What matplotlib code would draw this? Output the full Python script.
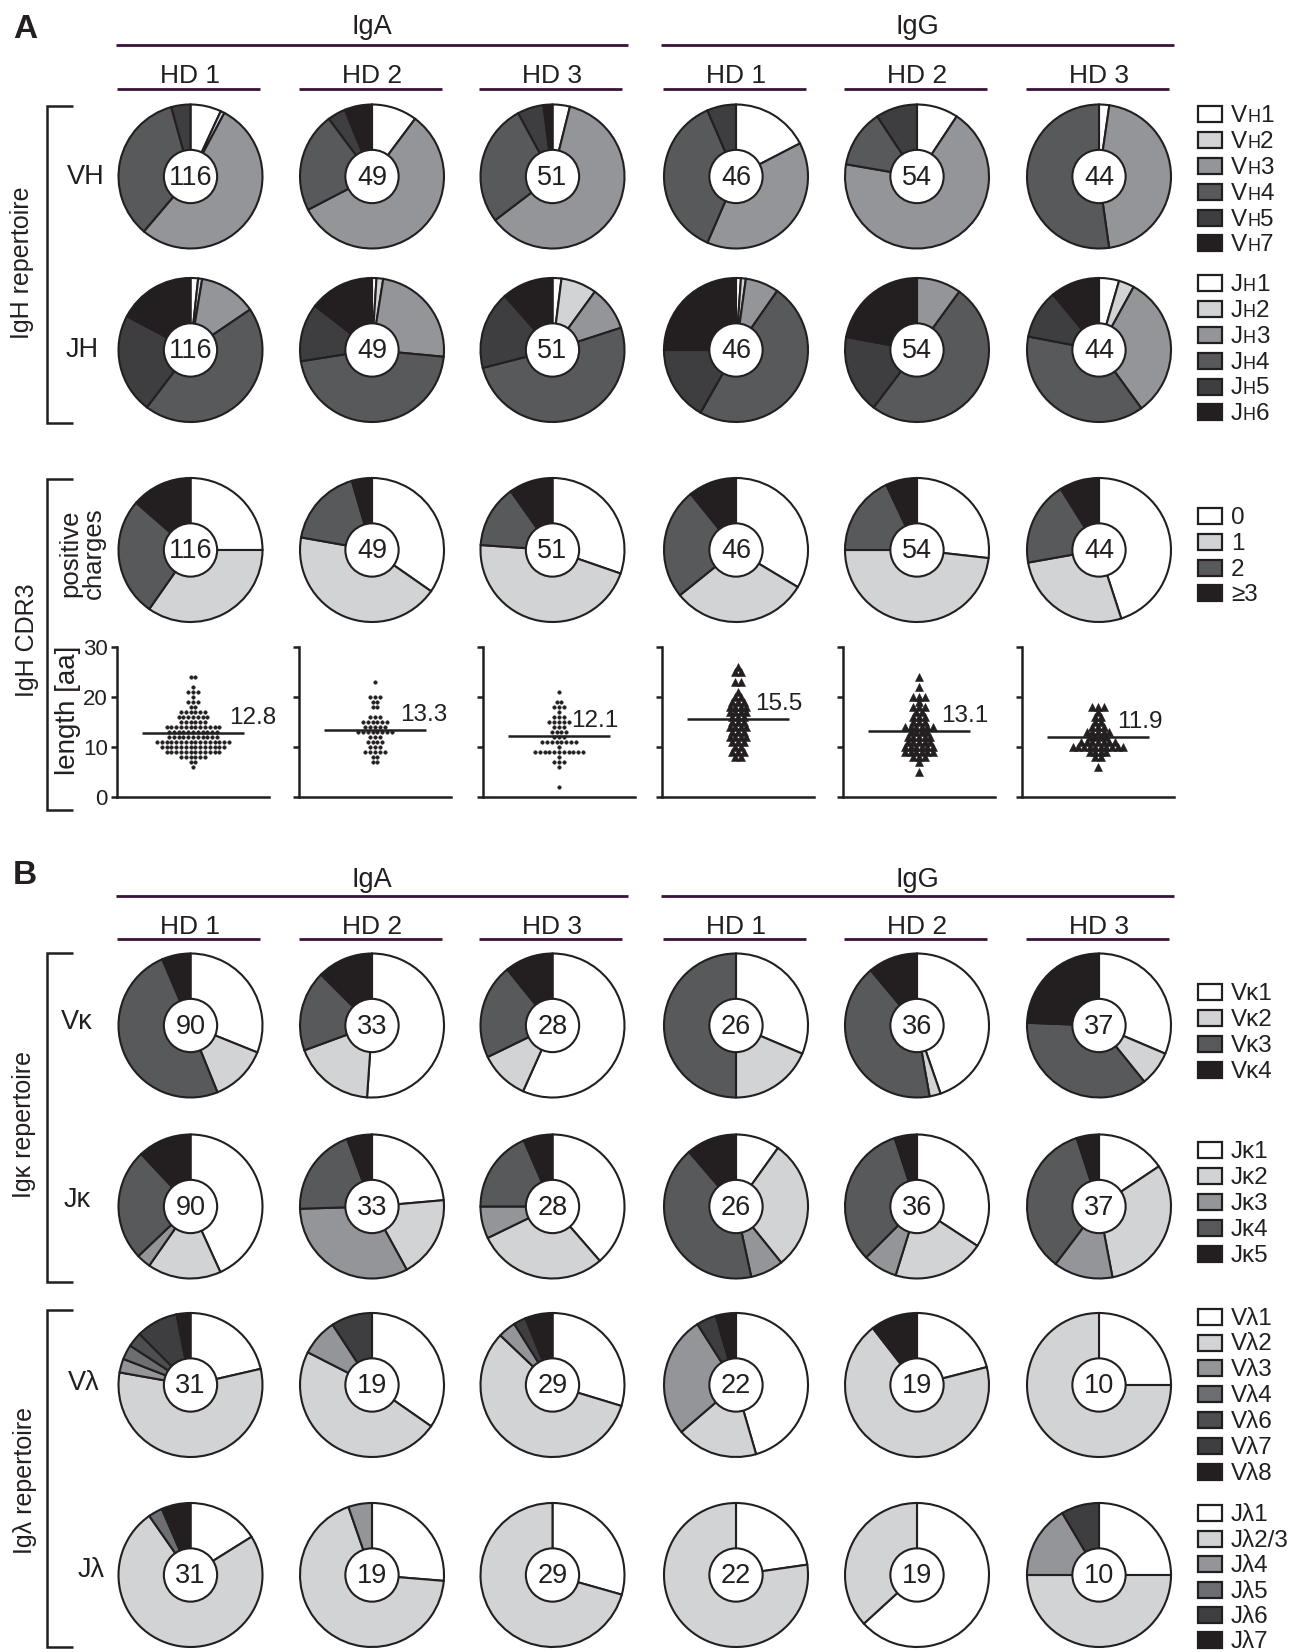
import numpy as np
import matplotlib
matplotlib.use("Agg")
import matplotlib.pyplot as plt
from matplotlib.patches import Circle, Rectangle

plt.rcParams["font.family"] = ["Liberation Sans", "DejaVu Sans"]

# ---------------------------------------------------------------- data
isotypes = ["IgA", "IgG"]
donors = ["HD 1", "HD 2", "HD 3"]

# number of sequences per column (IgA HD1-3, IgG HD1-3)
n_heavy = [116, 49, 51, 46, 54, 44]
n_kappa = [90, 33, 28, 26, 36, 37]
n_lambda = [31, 19, 29, 22, 19, 10]

# gene usage, % of sequences, one row per column
vh_genes = ["VH1", "VH2", "VH3", "VH4", "VH5", "VH7"]
vh_pct = [
    [6.9, 0.9, 53.4, 34.5, 4.3, 0.0],
    [10.2, 0.0, 57.1, 22.4, 4.1, 6.1],
    [3.9, 0.0, 60.8, 27.5, 5.9, 2.0],
    [17.4, 0.0, 39.1, 37.0, 6.5, 0.0],
    [9.3, 0.0, 68.5, 13.0, 9.3, 0.0],
    [2.3, 0.0, 45.5, 52.3, 0.0, 0.0],
]
jh_genes = ["JH1", "JH2", "JH3", "JH4", "JH5", "JH6"]
jh_pct = [
    [1.7, 0.9, 12.9, 44.8, 22.4, 17.2],
    [1.0, 1.5, 24.0, 46.0, 13.0, 14.5],
    [2.0, 8.0, 10.0, 51.0, 17.5, 11.5],
    [1.1, 1.1, 7.5, 48.5, 16.8, 25.0],
    [0.0, 0.0, 10.0, 50.3, 17.6, 22.1],
    [4.5, 3.5, 32.0, 38.0, 11.0, 11.0],
]
charge_classes = ["0", "1", "2", "\u22653"]
charge_pct = [
    [25.0, 34.7, 26.7, 13.6],
    [34.7, 43.1, 17.7, 4.5],
    [30.3, 45.8, 14.1, 9.8],
    [33.6, 30.6, 25.0, 10.8],
    [26.8, 48.2, 18.0, 7.0],
    [45.0, 27.2, 18.9, 8.9],
]
vk_genes = ["V\u03ba1", "V\u03ba2", "V\u03ba3", "V\u03ba4"]
vk_pct = [
    [31.1, 12.8, 49.7, 6.4],
    [51.1, 18.3, 18.1, 12.5],
    [56.7, 11.1, 21.4, 10.8],
    [31.4, 18.6, 50.0, 0.0],
    [44.7, 2.5, 41.7, 11.1],
    [31.4, 7.8, 36.4, 24.4],
]
jk_genes = ["J\u03ba1", "J\u03ba2", "J\u03ba3", "J\u03ba4", "J\u03ba5"]
jk_pct = [
    [43.2, 16.5, 3.2, 25.1, 12.0],
    [23.6, 18.4, 32.5, 19.9, 5.6],
    [38.6, 29.2, 7.2, 18.5, 6.5],
    [9.9, 29.3, 7.4, 42.1, 11.3],
    [34.2, 20.6, 7.7, 32.5, 5.0],
    [15.6, 31.4, 13.3, 34.7, 5.0],
]
vl_genes = ["V\u03bb1", "V\u03bb2", "V\u03bb3", "V\u03bb4", "V\u03bb6", "V\u03bb7", "V\u03bb8"]
vl_pct = [
    [21.4, 56.4, 3.1, 3.3, 3.3, 9.4, 3.1],
    [34.7, 47.8, 8.3, 0.0, 0.0, 9.2, 0.0],
    [29.7, 57.4, 4.0, 0.0, 0.0, 2.8, 6.1],
    [45.5, 18.2, 27.3, 0.0, 0.0, 4.5, 4.5],
    [21.0, 68.5, 0.0, 0.0, 0.0, 0.0, 10.5],
    [25.0, 75.0, 0.0, 0.0, 0.0, 0.0, 0.0],
]
jl_genes = ["J\u03bb1", "J\u03bb2/3", "J\u03bb4", "J\u03bb5", "J\u03bb6", "J\u03bb7"]
jl_pct = [
    [16.1, 74.2, 0.0, 3.2, 0.0, 6.5],
    [26.3, 68.4, 5.3, 0.0, 0.0, 0.0],
    [29.4, 70.6, 0.0, 0.0, 0.0, 0.0],
    [22.7, 77.3, 0.0, 0.0, 0.0, 0.0],
    [63.2, 36.8, 0.0, 0.0, 0.0, 0.0],
    [25.0, 50.0, 16.5, 0.0, 8.5, 0.0],
]

# IgH CDR3 length distributions: length [aa] and number of sequences
len_iga_hd1 = [24, 22, 21, 20, 19, 18, 17, 16, 15, 14, 13, 12, 11, 10, 9, 8, 7, 6]
cnt_iga_hd1 = [2, 1, 3, 1, 3, 2, 6, 7, 6, 12, 11, 11, 16, 14, 12, 6, 2, 1]
len_iga_hd2 = [23, 20, 19, 18, 16, 15, 14, 13, 12, 11, 10, 9, 8, 7]
cnt_iga_hd2 = [1, 3, 2, 2, 3, 6, 5, 8, 3, 4, 3, 5, 2, 2]
len_iga_hd3 = [21, 19, 18, 17, 16, 15, 14, 13, 12, 11, 10, 9, 8, 7, 6, 2]
cnt_iga_hd3 = [1, 2, 3, 1, 3, 5, 3, 4, 3, 8, 1, 11, 1, 3, 1, 1]
len_igg_hd1 = [26, 25, 23, 21, 20, 19, 18, 17, 16, 15, 14, 13, 12, 11, 10, 9, 8]
cnt_igg_hd1 = [1, 2, 2, 1, 2, 3, 4, 4, 3, 3, 4, 3, 4, 3, 2, 3, 2]
len_igg_hd2 = [24, 22, 20, 19, 18, 17, 16, 15, 14, 13, 12, 11, 10, 9, 8, 7, 5]
cnt_igg_hd2 = [1, 1, 3, 1, 3, 2, 3, 3, 6, 4, 5, 5, 6, 6, 3, 1, 1]
len_igg_hd3 = [18, 17, 16, 15, 14, 13, 12, 11, 10, 9, 8, 6]
cnt_igg_hd3 = [3, 1, 2, 2, 3, 5, 4, 7, 10, 4, 2, 1]

# ---------------------------------------------------------------- style
INK = "#231f20"
PURPLE = "#3a1338"
WHITE, LIGHT, MID = "#ffffff", "#d1d3d4", "#939598"
DARK, DARKER, BLACK = "#58595b", "#3e3e40", "#231f20"
MIDDARK, DARK6 = "#6d6e71", "#4d4e50"

vh_colors = [WHITE, LIGHT, MID, DARK, DARKER, BLACK]
jh_colors = [WHITE, LIGHT, MID, DARK, DARKER, BLACK]
charge_colors = [WHITE, LIGHT, DARK, BLACK]
vk_colors = [WHITE, LIGHT, DARK, BLACK]
jk_colors = [WHITE, LIGHT, MID, DARK, BLACK]
vl_colors = [WHITE, LIGHT, MID, MIDDARK, DARK6, DARKER, BLACK]
jl_colors = [WHITE, LIGHT, MID, MIDDARK, DARKER, BLACK]

W, H = 1311, 1652
fig = plt.figure(figsize=(W / 100, H / 100), dpi=100)
ov = fig.add_axes([0, 0, 1, 1])
ov.set_xlim(0, W)
ov.set_ylim(H, 0)
ov.axis("off")
renderer = fig.canvas.get_renderer()

col_x = [190.5, 372, 552.5, 736, 917, 1099]
R_PX = 72


def draw_pie(cx, cy, values, colors, n):
    side = 156
    ax = fig.add_axes([(cx - side / 2) / W, (H - cy - side / 2) / H, side / W, side / H])
    keep = [(v, c) for v, c in zip(values, colors) if v > 0]
    ax.pie([v for v, _ in keep], colors=[c for _, c in keep], startangle=90,
           counterclock=False, radius=1,
           wedgeprops=dict(edgecolor=INK, linewidth=1.5, joinstyle="miter"))
    lim = side / 2 / R_PX
    ax.set_xlim(-lim, lim)
    ax.set_ylim(-lim, lim)
    ax.add_patch(Circle((0, 0), 0.37, fc="white", ec=INK, lw=1.5, zorder=5))
    ax.text(0, -0.02, str(n), ha="center", va="center", fontsize=19.5, color=INK, zorder=6)
    ax.axis("off")


def draw_pie_row(cy, table, colors, counts):
    for x, vals, n in zip(col_x, table, counts):
        draw_pie(x, cy, vals, colors, n)


def legend_label(x, y, label, size=17.5):
    # "VH1"/"JH1": the H is set in small capitals
    if len(label) > 1 and label[1] == "H":
        parts = [(label[0], size), ("H", size * 0.74), (label[2:], size)]
    else:
        parts = [(label, size)]
    for s, fs in parts:
        t = ov.text(x, y, s, fontsize=fs, ha="left", va="baseline", color=INK)
        x += t.get_window_extent(renderer=renderer).width


def draw_legend(y0, labels, colors, step=25.8):
    for i, (lab, c) in enumerate(zip(labels, colors)):
        cy = y0 + i * step
        ov.add_patch(Rectangle((1198, cy - 8), 24, 16, fc=c, ec=INK, lw=1.6))
        legend_label(1231, cy + 8, lab)


# ---------------------------------------------------------------- headers
for letter, letter_y in (("A", 30), ("B", 875)):
    ov.text(25, letter_y, letter, fontsize=24, fontweight="bold",
            ha="center", va="center", color=INK)

for gy, gl, hy, hl in ((33.5, 45, 83, 89.3), (887, 896, 933.5, 939.3)):
    for gi, iso in enumerate(isotypes):
        xs = col_x[gi * 3:(gi + 1) * 3]
        ov.text(xs[1], gy, iso, ha="center", va="baseline", fontsize=19.5, color=INK)
        ov.plot([xs[0] - 75, xs[2] + 75], [gl, gl], color=PURPLE, lw=2.0,
                solid_capstyle="butt")
        for x, d in zip(xs, donors):
            ov.text(x, hy, d, ha="center", va="baseline", fontsize=19, color=INK)
            ov.plot([x - 73.5, x + 69.5], [hl, hl], color=PURPLE, lw=2.0,
                    solid_capstyle="butt")

# ---------------------------------------------------------------- brackets
for top, bot, label, lx, ly in ((106, 423, "IgH repertoire", 22, 263),
                                 (479, 810, "IgH CDR3", 27, 640),
                                 (953, 1282, "Ig\u03ba repertoire", 24, 1125),
                                 (1310, 1647, "Ig\u03bb repertoire", 25, 1480)):
    ov.plot([73, 47, 47, 73], [top, top, bot, bot], color=INK, lw=1.8,
            solid_joinstyle="miter", solid_capstyle="butt")
    ov.text(lx, ly, label, rotation=90, ha="center", va="center", fontsize=18, color=INK)

for txt, x, y in (("VH", 86, 177), ("JH", 82, 350), ("V\u03ba", 77, 1022),
                  ("J\u03ba", 77, 1200), ("V\u03bb", 84, 1383), ("J\u03bb", 91, 1570)):
    ov.text(x, y, txt, ha="center", va="center", fontsize=19.5, color=INK)

ov.text(82, 553, "positive\ncharges", rotation=90, ha="center", va="center",
        fontsize=18.5, color=INK, linespacing=1.0)
ov.text(68, 710, "length [aa]", rotation=90, ha="center", va="center",
        fontsize=20, color=INK)

# ---------------------------------------------------------------- pies
draw_pie_row(176.5, vh_pct, vh_colors, n_heavy)
draw_pie_row(350, jh_pct, jh_colors, n_heavy)
draw_pie_row(550, charge_pct, charge_colors, n_heavy)
draw_pie_row(1025.5, vk_pct, vk_colors, n_kappa)
draw_pie_row(1206.5, jk_pct, jk_colors, n_kappa)
draw_pie_row(1385, vl_pct, vl_colors, n_lambda)
draw_pie_row(1575, jl_pct, jl_colors, n_lambda)

draw_legend(114.3, vh_genes, vh_colors)
draw_legend(283.3, jh_genes, jh_colors)
draw_legend(516, charge_classes, charge_colors)
draw_legend(991.7, vk_genes, vk_colors, 26)
draw_legend(1150, jk_genes, jk_colors, 26)
draw_legend(1316.7, vl_genes, vl_colors)
draw_legend(1513.3, jl_genes, jl_colors, 25.4)

# ---------------------------------------------------------------- CDR3 length
Y0, Y30, AXW = 796.7, 646.7, 152
scatter_left = [117, 299, 483, 662, 843, 1022]
label_dx = [36, 25, 12, 17, 22, 19]
cdr3 = [(len_iga_hd1, cnt_iga_hd1), (len_iga_hd2, cnt_iga_hd2), (len_iga_hd3, cnt_iga_hd3),
        (len_igg_hd1, cnt_igg_hd1), (len_igg_hd2, cnt_igg_hd2), (len_igg_hd3, cnt_igg_hd3)]

for i, (left, (lengths, counts)) in enumerate(zip(scatter_left, cdr3)):
    ax = fig.add_axes([left / W, (H - Y0) / H, AXW / W, (Y0 - Y30) / H])
    ax.patch.set_visible(False)
    ax.set_xlim(0, AXW)
    ax.set_ylim(0, 30)
    mid = AXW / 2
    igg = i >= 3
    marker, ms, step = ("^", 6.0, 5.6) if igg else ("o", 2.5, 4.8)
    for L, c in zip(lengths, counts):
        xs = mid + (np.arange(c) - (c - 1) / 2) * step
        ax.plot(xs, np.full(c, L), ls="none", marker=marker, ms=ms, color=INK,
                mec=INK, mew=0.4, clip_on=False)
    m = np.repeat(lengths, counts).mean()
    ax.plot([mid - 51, mid + 51], [m, m], color=INK, lw=1.8, solid_capstyle="butt",
            zorder=4)
    ax.text(mid + label_dx[i], m + 0.8, f"{m:.1f}", fontsize=17.5, ha="left",
            va="bottom", color=INK)
    for side in ("top", "right"):
        ax.spines[side].set_visible(False)
    for side in ("left", "bottom"):
        ax.spines[side].set_linewidth(1.8)
        ax.spines[side].set_color(INK)
    ax.set_xticks([])
    ax.set_yticks([0, 10, 20, 30])
    ax.tick_params(axis="y", direction="out", length=4.5, width=1.8, color=INK,
                   labelsize=16, labelcolor=INK, pad=2)
    if i > 0:
        ax.set_yticklabels([])

fig.savefig("out.png", dpi=100)
